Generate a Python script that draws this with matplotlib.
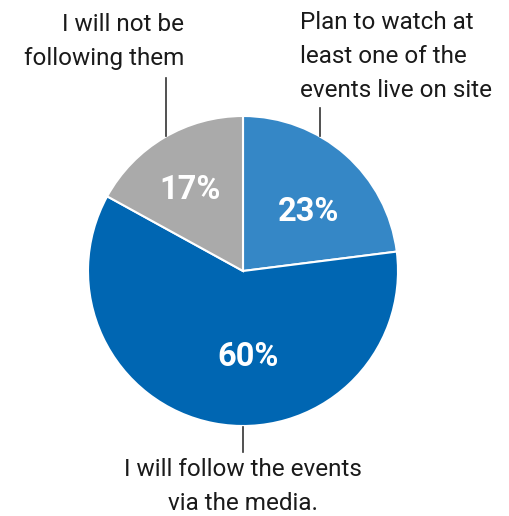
import matplotlib
matplotlib.use("Agg")
import matplotlib.pyplot as plt

# ---- data ----
categories = ["Plan to watch at\nleast one of the\nevents live on site",
              "I will follow the events\nvia the media.",
              "I will not be\nfollowing them"]
values = [23, 60, 17]
colors = ["#3587C6", "#0066B2", "#AAAAAA"]

W, H = 509, 516
plt.rcParams['font.family'] = ['Roboto', 'DejaVu Sans']

fig = plt.figure(figsize=(W / 100, H / 100), dpi=100)
ax = fig.add_axes([0, 0, 1, 1])

def Y(y):
    return H - y

cx, cy, R = 243, 271, 155
ax.pie(values, colors=colors, startangle=90, counterclock=False,
       center=(cx, Y(cy)), radius=R,
       wedgeprops=dict(edgecolor="white", linewidth=1.5))

ax.set_xlim(0, W)
ax.set_ylim(0, H)
ax.set_aspect("equal")
ax.axis("off")

# percentage labels (layout positions in image pixels)
pct_pos = [(309, 212), (248, 357), (190, 190)]
for v, (px, py) in zip(values, pct_pos):
    ax.text(px, Y(py), f"{v}%", color="white", fontsize=23.5, fontweight="bold",
            ha="center", va="center")

# outer labels with leader lines
lc = "#333333"
ax.plot([320, 320], [Y(108), Y(136)], color=lc, lw=1.2)
ax.plot([166, 166], [Y(78), Y(136)], color=lc, lw=1.2)
ax.plot([243, 243], [Y(427), Y(452)], color=lc, lw=1.2)

# va="baseline" anchors the last line's baseline
fs, ls = 17.5, 1.62
ax.text(300, Y(97), categories[0], ha="left", va="baseline", fontsize=fs,
        color="#1a1a1a", linespacing=ls)
ax.text(184, Y(65), categories[2], ha="right", va="baseline", fontsize=fs,
        color="#1a1a1a", linespacing=ls, multialignment="right")
ax.text(243, Y(510), categories[1], ha="center", va="baseline", fontsize=fs,
        color="#1a1a1a", linespacing=ls, multialignment="center")

fig.savefig("out.png", dpi=100)
